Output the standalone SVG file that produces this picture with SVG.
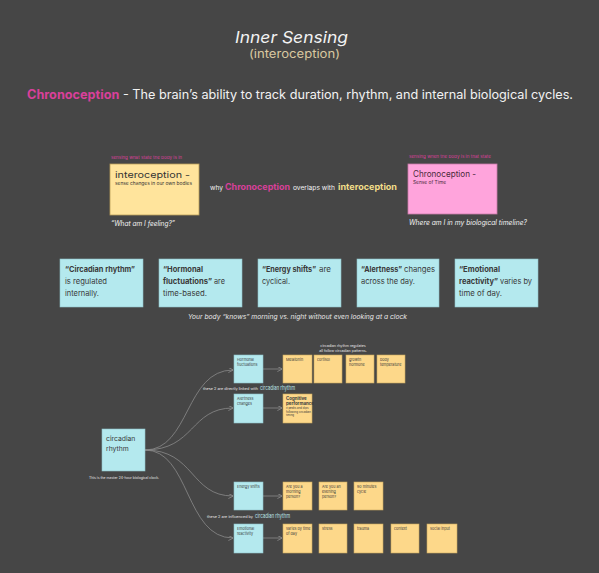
<svg xmlns="http://www.w3.org/2000/svg" width="599" height="573" viewBox="0 0 599 573">
<defs>
<style>
text{font-family:Inter,"Noto Sans","Liberation Sans",sans-serif;}
.w{fill:#f2f2f2}
.pk{fill:#d9409a}
.dk{fill:#333}
.cy{fill:#b4e9ee;stroke:#8fc3c9;stroke-width:0.6}
.ye{fill:#fdd88a;stroke:#c9a85e;stroke-width:0.6}
.sm{font-size:3.7px;fill:#3a3a3a}
.big{font-size:7.8px;fill:#3a3a3a}
.b{font-weight:700}
.note{font-size:3.6px;fill:#e6e6e6}
.cr{font-size:6.2px;fill:#bfe6ea}
.con{fill:none;stroke:#8a8a8a;stroke-width:0.8}
</style>
<marker id="ah" viewBox="0 0 6 6" refX="5.5" refY="3" markerWidth="5" markerHeight="5" orient="auto" markerUnits="userSpaceOnUse">
<path d="M0,0 L6,3 L0,6" fill="none" stroke="#8a8a8a" stroke-width="1"/>
</marker>
</defs>
<rect x="0" y="0" width="599" height="573" fill="#464646"/>

<g id="title">
<text x="235" y="43" font-size="16.5" font-style="italic" class="w" textLength="113" lengthAdjust="spacingAndGlyphs">Inner Sensing</text>
<text x="249" y="57.5" font-size="11.5" fill="#d9c8a0" textLength="91" lengthAdjust="spacingAndGlyphs">(interoception)</text>
</g>

<g id="definition">
<text x="27" y="99" font-size="12.5" textLength="546" lengthAdjust="spacingAndGlyphs"><tspan class="pk" font-weight="700">Chronoception</tspan><tspan class="w"> - The brain’s ability to track duration, rhythm, and internal biological cycles.</tspan></text>
</g>

<g id="interoception">
<text x="111" y="159" font-size="3.8" class="pk" textLength="71" lengthAdjust="spacingAndGlyphs">sensing what state the body is in</text>
<rect x="110" y="164" width="89" height="51" fill="#ffe49c" stroke="#b89d5a" stroke-width="0.8"/>
<text x="115" y="178" font-size="9" class="dk" textLength="75" lengthAdjust="spacingAndGlyphs">interoception -</text>
<text x="115" y="185" font-size="4.6" class="dk" textLength="77" lengthAdjust="spacingAndGlyphs">sense changes in our own bodies</text>
<text x="111" y="226" font-size="7.2" font-style="italic" class="w" textLength="64" lengthAdjust="spacingAndGlyphs">“What am I feeling?”</text>
</g>

<g id="overlap">
<text x="210" y="190" font-size="6.5" class="w" textLength="13" lengthAdjust="spacingAndGlyphs">why</text>
<text x="225" y="190" font-size="9" font-weight="700" class="pk" textLength="65" lengthAdjust="spacingAndGlyphs">Chronoception</text>
<text x="293" y="190" font-size="6.5" class="w" textLength="42" lengthAdjust="spacingAndGlyphs">overlaps with</text>
<text x="338" y="190" font-size="9" font-weight="700" fill="#f3df8a" textLength="59" lengthAdjust="spacingAndGlyphs">interoception</text>
</g>

<g id="chronoception">
<text x="409" y="158" font-size="3.8" class="pk" textLength="82" lengthAdjust="spacingAndGlyphs">sensing when the body is in that state</text>
<rect x="408" y="164" width="89" height="50" fill="#ffa4dc" stroke="#c77aa8" stroke-width="0.8"/>
<text x="413" y="177" font-size="8.5" fill="#4a2a3a" textLength="63" lengthAdjust="spacingAndGlyphs">Chronoception -</text>
<text x="413" y="184" font-size="4.6" fill="#4a2a3a" textLength="33" lengthAdjust="spacingAndGlyphs">Sense of Time</text>
<text x="409" y="225" font-size="7.2" font-style="italic" class="w" textLength="118" lengthAdjust="spacingAndGlyphs">Where am I in my biological timeline?</text>
</g>

<g id="fact-circadian">
<rect x="60" y="259" width="83" height="48" class="cy"/>
<text x="65" y="272" class="big b" textLength="70" lengthAdjust="spacingAndGlyphs">“Circadian rhythm”</text>
<text x="65" y="284" class="big" textLength="42" lengthAdjust="spacingAndGlyphs">is regulated</text>
<text x="65" y="296" class="big" textLength="34" lengthAdjust="spacingAndGlyphs">internally.</text>
</g>
<g id="fact-hormonal">
<rect x="159" y="259" width="83" height="48" class="cy"/>
<text x="163" y="272" class="big b" textLength="40" lengthAdjust="spacingAndGlyphs">“Hormonal</text>
<text x="163" y="284" class="big b" textLength="49" lengthAdjust="spacingAndGlyphs">fluctuations”</text>
<text x="214" y="284" class="big" textLength="11" lengthAdjust="spacingAndGlyphs">are</text>
<text x="163" y="296" class="big" textLength="44" lengthAdjust="spacingAndGlyphs">time-based.</text>
</g>
<g id="fact-energy">
<rect x="258" y="259" width="83" height="48" class="cy"/>
<text x="262" y="272" class="big b" textLength="54" lengthAdjust="spacingAndGlyphs">“Energy shifts”</text>
<text x="319" y="272" class="big" textLength="12" lengthAdjust="spacingAndGlyphs">are</text>
<text x="262" y="284" class="big" textLength="28" lengthAdjust="spacingAndGlyphs">cyclical.</text>
</g>
<g id="fact-alertness">
<rect x="357" y="259" width="82" height="48" class="cy"/>
<text x="361" y="272" class="big b" textLength="41" lengthAdjust="spacingAndGlyphs">“Alertness”</text>
<text x="404" y="272" class="big" textLength="31" lengthAdjust="spacingAndGlyphs">changes</text>
<text x="361" y="284" class="big" textLength="54" lengthAdjust="spacingAndGlyphs">across the day.</text>
</g>
<g id="fact-emotional">
<rect x="455" y="259" width="83" height="48" class="cy"/>
<text x="459" y="272" class="big b" textLength="41" lengthAdjust="spacingAndGlyphs">“Emotional</text>
<text x="459" y="284" class="big b" textLength="39" lengthAdjust="spacingAndGlyphs">reactivity”</text>
<text x="500" y="284" class="big" textLength="32" lengthAdjust="spacingAndGlyphs">varies by</text>
<text x="459" y="296" class="big" textLength="43" lengthAdjust="spacingAndGlyphs">time of day.</text>
</g>
<text x="188" y="319" font-size="6.2" font-style="italic" fill="#e6e6e6" textLength="219" lengthAdjust="spacingAndGlyphs">Your body “knows” morning vs. night without even looking at a clock</text>

<g id="connectors">
<path class="con" marker-end="url(#ah)" d="M145,450 C190,450 185,370 233,370"/>
<path class="con" marker-end="url(#ah)" d="M145,450 C195,450 190,408 233,408"/>
<path class="con" marker-end="url(#ah)" d="M145,450 C195,450 190,496 233,496"/>
<path class="con" marker-end="url(#ah)" d="M145,450 C190,450 185,538 233,538"/>
<path class="con" marker-end="url(#ah)" d="M263,369 L282,369"/>
<path class="con" marker-end="url(#ah)" d="M263,408 L282,408"/>
<path class="con" marker-end="url(#ah)" d="M263,496 L282,496"/>
<path class="con" marker-end="url(#ah)" d="M263,538 L282,538"/>
</g>

<g id="circadian-rhythm">
<rect x="102" y="429" width="43" height="42" class="cy"/>
<text x="106" y="441" font-size="6.8" fill="#3a3a3a">circadian</text>
<text x="106" y="451" font-size="6.8" fill="#3a3a3a">rhythm</text>
<text x="89" y="479" class="note" textLength="70" lengthAdjust="spacingAndGlyphs">This is the master 24-hour biological clock.</text>
</g>

<g id="labels">
<text x="343" y="347" text-anchor="middle" class="note">circadian rhythm regulates</text>
<text x="343" y="352" text-anchor="middle" class="note">all follow circadian patterns.</text>
<text x="203" y="390" class="note" textLength="55" lengthAdjust="spacingAndGlyphs">these 2 are directly linked with</text>
<text x="260" y="390" class="cr" textLength="35" lengthAdjust="spacingAndGlyphs">circadian rhythm</text>
<text x="207" y="518" class="note" textLength="46" lengthAdjust="spacingAndGlyphs">these 2 are influenced by</text>
<text x="255" y="518" class="cr" textLength="35" lengthAdjust="spacingAndGlyphs">circadian rhythm</text>
</g>

<g id="hormonal-fluctuations">
<rect x="234" y="355" width="29" height="28" class="cy"/>
<text x="237" y="361" class="sm">Hormonal</text>
<text x="237" y="366" class="sm">fluctuations</text>
</g>
<g id="alertness-changes">
<rect x="234" y="394" width="29" height="29" class="cy"/>
<text x="237" y="400" class="sm">Alertness</text>
<text x="237" y="405" class="sm">changes</text>
</g>
<g id="energy-shifts">
<rect x="234" y="482" width="29" height="28" class="cy"/>
<text x="237" y="488" class="sm">Energy shifts</text>
</g>
<g id="emotional-reactivity">
<rect x="234" y="524" width="29" height="29" class="cy"/>
<text x="237" y="530" class="sm">Emotional</text>
<text x="237" y="535" class="sm">reactivity</text>
</g>

<g id="melatonin"><rect x="283" y="355" width="29" height="28" class="ye"/><text x="286" y="361" class="sm">Melatonin</text></g>
<g id="cortisol"><rect x="314" y="355" width="28" height="28" class="ye"/><text x="317" y="361" class="sm">cortisol</text></g>
<g id="growth-hormone"><rect x="346" y="355" width="28" height="28" class="ye"/><text x="349" y="361" class="sm">growth</text><text x="349" y="366" class="sm">hormone</text></g>
<g id="body-temperature"><rect x="377" y="355" width="28" height="28" class="ye"/><text x="380" y="361" class="sm">body</text><text x="380" y="366" class="sm">temperature</text></g>

<g id="cognitive-performance"><rect x="283" y="394" width="29" height="29" class="ye"/>
<text x="286" y="400" font-size="4.4" font-weight="700" fill="#3a3a3a">Cognitive</text>
<text x="286" y="405" font-size="4.4" font-weight="700" fill="#3a3a3a">performance</text>
<text x="286" y="409" font-size="2.8" fill="#3a3a3a">it peaks and dips</text>
<text x="286" y="412.5" font-size="2.8" fill="#3a3a3a">following circadian</text>
<text x="286" y="416" font-size="2.8" fill="#3a3a3a">timing</text>
</g>

<g id="morning-person"><rect x="283" y="482" width="29" height="28" class="ye"/><text x="286" y="488" class="sm">Are you a</text><text x="286" y="493" class="sm">morning</text><text x="286" y="498" class="sm">person?</text></g>
<g id="evening-person"><rect x="319" y="482" width="28" height="28" class="ye"/><text x="322" y="488" class="sm">Are you an</text><text x="322" y="493" class="sm">evening</text><text x="322" y="498" class="sm">person?</text></g>
<g id="ninety-minutes"><rect x="354" y="482" width="29" height="28" class="ye"/><text x="357" y="488" class="sm">90 minutes</text><text x="357" y="493" class="sm">cycle</text></g>

<g id="varies-by-time"><rect x="283" y="524" width="29" height="29" class="ye"/><text x="286" y="530" class="sm">varies by time</text><text x="286" y="535" class="sm">of day</text></g>
<g id="stress"><rect x="319" y="524" width="28" height="29" class="ye"/><text x="322" y="530" class="sm">stress</text></g>
<g id="trauma"><rect x="354" y="524" width="29" height="29" class="ye"/><text x="357" y="530" class="sm">trauma</text></g>
<g id="context"><rect x="391" y="524" width="28" height="29" class="ye"/><text x="394" y="530" class="sm">context</text></g>
<g id="social-input"><rect x="427" y="524" width="30" height="29" class="ye"/><text x="430" y="530" class="sm">social input</text></g>
</svg>
